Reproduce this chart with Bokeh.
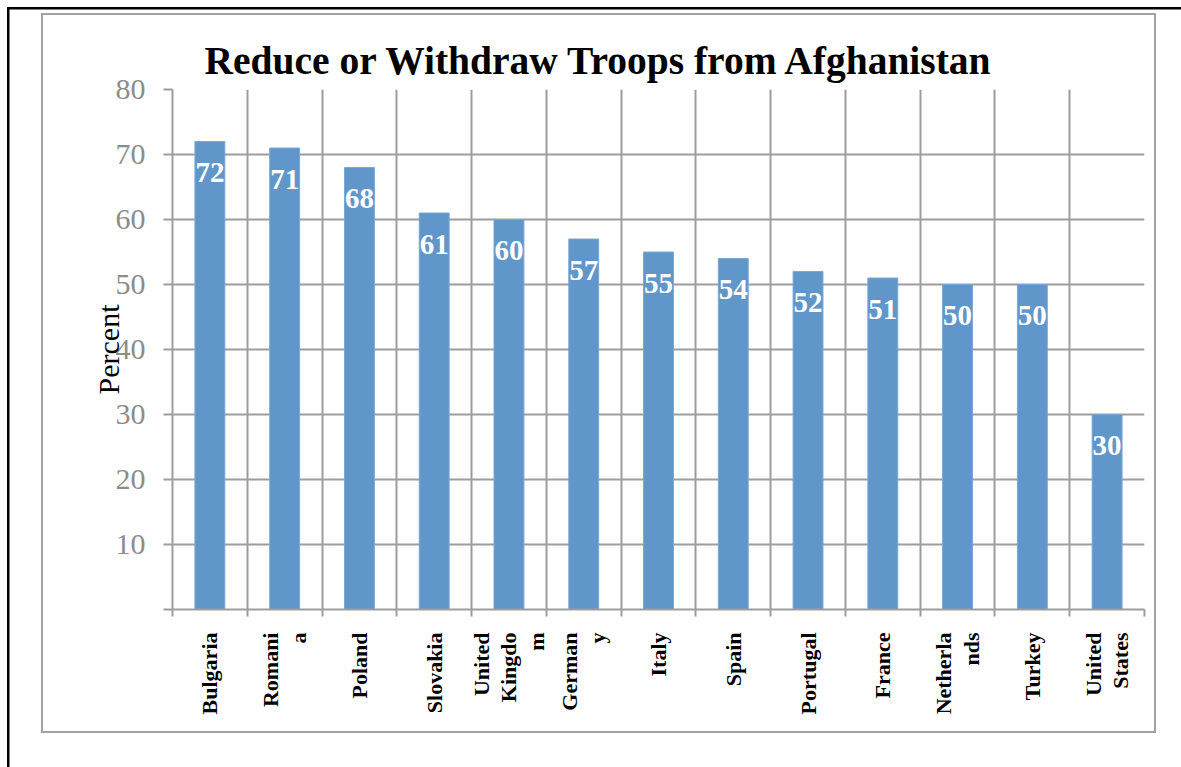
import math
from bokeh.plotting import figure
from bokeh.models import (ColumnDataSource, Range1d, LinearAxis, FixedTicker)
from bokeh.core.properties import value
from bokeh.embed import file_html
from bokeh.resources import INLINE

countries = ["Bulgaria", "Romania", "Poland", "Slovakia", "United Kingdom", "Germany",
             "Italy", "Spain", "Portugal", "France", "Netherlands", "Turkey", "United States"]
tick_labels = ["Bulgaria", "Romani\na", "Poland", "Slovakia", "United\nKingdo\nm", "German\ny",
               "Italy", "Spain", "Portugal", "France", "Netherla\nnds", "Turkey", "United\nStates"]
percent = [72, 71, 68, 61, 60, 57, 55, 54, 52, 51, 50, 50, 30]
y_ticks = [0, 10, 20, 30, 40, 50, 60, 70, 80]
title_text = "Reduce or Withdraw Troops from Afghanistan"
y_title = "Percent"

FONT = "Liberation Serif"
GRAY = "#9d9d9d"
FRAME_GRAY = "#a3a3a3"
BAR = "#6096CA"

n = len(countries)
centers = [i + 0.5 for i in range(n)]
edges = list(range(n + 1))

W, H = 1181, 767
p = figure(width=W, height=H,
           x_range=Range1d(0, n), y_range=Range1d(0, 80),
           output_backend="svg", toolbar_location=None,
           min_border_left=172, min_border_right=37,
           min_border_top=89, min_border_bottom=158)
p.outline_line_color = None
p.background_fill_color = "white"
p.border_fill_color = None

# title
p.title.text = title_text
p.title.align = "left"
p.title.offset = 32
p.title.standoff = 13
p.title.text_font = FONT
p.title.text_font_style = "bold"
p.title.text_font_size = "39.5px"
p.title.text_color = "black"

# page border (black, left/top) and chart-area border (gray), drawn as host background
def bar_css(color, x, y, w, h):
    return f"linear-gradient({color},{color}) {x}px {y}px / {w}px {h}px no-repeat"

p.styles = {"background": ", ".join([
    bar_css("#000000", 7, 7, 2.5, 800),
    bar_css("#000000", 7, 7, 1200, 2.5),
    bar_css(FRAME_GRAY, 41, 13, 2.2, 720),
    bar_css(FRAME_GRAY, 1154, 13, 2.2, 720),
    bar_css(FRAME_GRAY, 41, 13, 1115, 2.2),
    bar_css(FRAME_GRAY, 41, 731, 1115, 2.2),
]) + ", white"}

src = ColumnDataSource(dict(x=centers, country=countries, percent=percent,
                            label=[str(v) for v in percent]))

# axis nearest the frame: tick marks at category boundaries
xa = p.xaxis[0]
xa.ticker = FixedTicker(ticks=edges)
xa.major_label_overrides = {e: "" for e in edges}
xa.major_tick_out = 7
xa.major_tick_in = 0
xa.minor_tick_line_color = None
xa.major_label_text_font_size = "1px"
xa.major_label_standoff = 0
xa.axis_line_color = GRAY
xa.axis_line_width = 2
xa.major_tick_line_color = GRAY
xa.major_tick_line_width = 2

# label axis: country names at category centers
lab_axis = LinearAxis(ticker=FixedTicker(ticks=centers),
                      major_label_overrides={c: t for c, t in zip(centers, tick_labels)},
                      major_label_orientation=math.pi / 2,
                      major_tick_line_color=None, minor_tick_line_color=None,
                      axis_line_color=None, major_label_standoff=10,
                      major_label_text_font=FONT, major_label_text_font_style="bold",
                      major_label_text_font_size="22px", major_label_text_color="black",
                      major_label_text_line_height=1.1)
p.add_layout(lab_axis, "below")

ya = p.yaxis[0]
ya.ticker = FixedTicker(ticks=y_ticks)
ya.major_label_overrides = {0: ""}
ya.major_tick_out = 9
ya.major_tick_in = 0
ya.minor_tick_line_color = None
ya.axis_line_color = GRAY
ya.axis_line_width = 2
ya.major_tick_line_color = GRAY
ya.major_tick_line_width = 2
ya.major_label_standoff = 18
ya.major_label_text_font = FONT
ya.major_label_text_font_size = "30px"
ya.major_label_text_color = "#8c8c8c"
ya.axis_label = y_title
ya.axis_label_standoff = -12
ya.axis_label_text_font = FONT
ya.axis_label_text_font_style = "normal"
ya.axis_label_text_font_size = "30px"
ya.axis_label_text_color = "black"

p.xgrid.ticker = FixedTicker(ticks=edges)
p.xgrid.grid_line_color = GRAY
p.xgrid.grid_line_width = 2
p.ygrid.ticker = FixedTicker(ticks=y_ticks)
p.ygrid.grid_line_color = GRAY
p.ygrid.grid_line_width = 2

p.vbar(x="x", top="percent", width=0.4, source=src,
       fill_color=BAR, line_color="#7aa8d6", line_width=1)

p.text(x="x", y="percent", text="label", source=src,
       text_align="center", text_baseline="middle", y_offset=31,
       text_color="white", text_font=value(FONT), text_font_style="bold",
       text_font_size="29px")

open("out.html", "w").write(file_html(p, INLINE))
